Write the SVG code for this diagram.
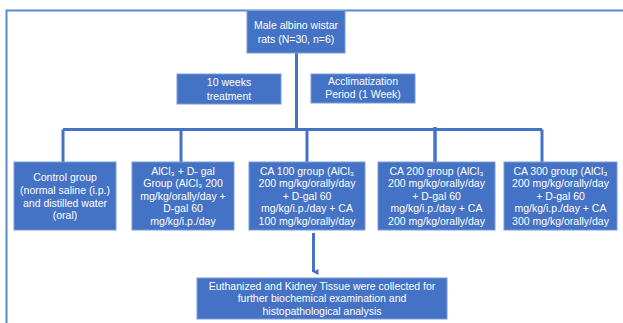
<svg xmlns="http://www.w3.org/2000/svg" width="623" height="323" viewBox="0 0 623 323">
<defs>
<style>
.box{fill:#4472c4;stroke:#7b9bd6;stroke-width:1}
.t{font-family:"Liberation Sans",Arial,sans-serif;font-size:10.5px;fill:#ffffff;text-anchor:middle}
.ln{stroke:#4472c4;stroke-width:3;fill:none}
.frame{stroke:#5b8bd0;stroke-width:2;fill:none}
</style>
<marker id="ah" markerWidth="6" markerHeight="6" refX="3" refY="5" orient="auto" markerUnits="userSpaceOnUse" viewBox="0 0 6 6">
<path d="M0,0 L6,0 L3,6 Z" fill="#4472c4"/>
</marker>
</defs>
<rect width="623" height="323" fill="#ffffff"/>
<path class="frame" d="M6.5,323 V10.5 H623"/>
<g id="connectors">
<path class="ln" d="M296.5,53 V129.5"/>
<path class="ln" d="M63,129.5 H542"/>
<path class="ln" d="M63,129.5 V162"/>
<path class="ln" d="M181,129.5 V162"/>
<path class="ln" d="M307,129.5 V162"/>
<path class="ln" d="M435,127 V162" style="stroke-width:3.5"/>
<path class="ln" d="M542,129.5 V162"/>
<path class="ln" d="M313.5,233 V272" marker-end="url(#ah)"/>
</g>
<g id="rats">
<rect class="box" x="247" y="10.5" width="98" height="42.5"/>
<text class="t" x="296" y="28.7">Male albino wistar</text>
<text class="t" x="296" y="42.7">rats (N=30, n=6)</text>
</g>
<g id="weeks">
<rect class="box" x="177" y="74" width="104" height="30"/>
<text class="t" x="229" y="85.7">10 weeks</text>
<text class="t" x="229" y="99.7">treatment</text>
</g>
<g id="acclim">
<rect class="box" x="311" y="74" width="104" height="29"/>
<text class="t" x="363" y="84.7">Acclimatization</text>
<text class="t" x="363" y="97.7">Period (1 Week)</text>
</g>
<g id="control">
<rect class="box" x="14" y="162" width="102" height="68"/>
<text class="t" x="65" y="181.4">Control group</text>
<text class="t" x="65" y="194">(normal saline (i.p.)</text>
<text class="t" x="65" y="206.7">and distilled water</text>
<text class="t" x="65" y="219.3">(oral)</text>
</g>
<g id="alcl3">
<rect class="box" x="132" y="162" width="102" height="68"/>
<text class="t" x="183" y="174.7">AlCl₃ + D- gal</text>
<text class="t" x="183" y="187.2">Group (AlCl₃ 200</text>
<text class="t" x="183" y="199.7">mg/kg/orally/day +</text>
<text class="t" x="183" y="212.2">D-gal 60</text>
<text class="t" x="183" y="224.7">mg/kg/i.p./day</text>
</g>
<g id="ca100">
<rect class="box" x="249" y="162" width="116" height="68"/>
<text class="t" x="307" y="174.7">CA 100 group (AlCl₃</text>
<text class="t" x="307" y="187.2">200 mg/kg/orally/day</text>
<text class="t" x="307" y="199.7">+ D-gal 60</text>
<text class="t" x="307" y="212.2">mg/kg/i.p./day + CA</text>
<text class="t" x="307" y="224.7">100 mg/kg/orally/day</text>
</g>
<g id="ca200">
<rect class="box" x="378" y="162" width="117" height="68"/>
<text class="t" x="436.5" y="174.7">CA 200 group (AlCl₃</text>
<text class="t" x="436.5" y="187.2">200 mg/kg/orally/day</text>
<text class="t" x="436.5" y="199.7">+ D-gal 60</text>
<text class="t" x="436.5" y="212.2">mg/kg/i.p./day + CA</text>
<text class="t" x="436.5" y="224.7">200 mg/kg/orally/day</text>
</g>
<g id="ca300">
<rect class="box" x="504" y="162" width="113" height="68"/>
<text class="t" x="560.5" y="174.7">CA 300 group (AlCl₃</text>
<text class="t" x="560.5" y="187.2">200 mg/kg/orally/day</text>
<text class="t" x="560.5" y="199.7">+ D-gal 60</text>
<text class="t" x="560.5" y="212.2">mg/kg/i.p./day + CA</text>
<text class="t" x="560.5" y="224.7">300 mg/kg/orally/day</text>
</g>
<g id="euthanized">
<rect class="box" x="197" y="278" width="250" height="41"/>
<text class="t" x="322" y="289.7">Euthanized and Kidney Tissue were collected for</text>
<text class="t" x="322" y="302.2">further biochemical examination and</text>
<text class="t" x="322" y="314.7">histopathological analysis</text>
</g>
</svg>
